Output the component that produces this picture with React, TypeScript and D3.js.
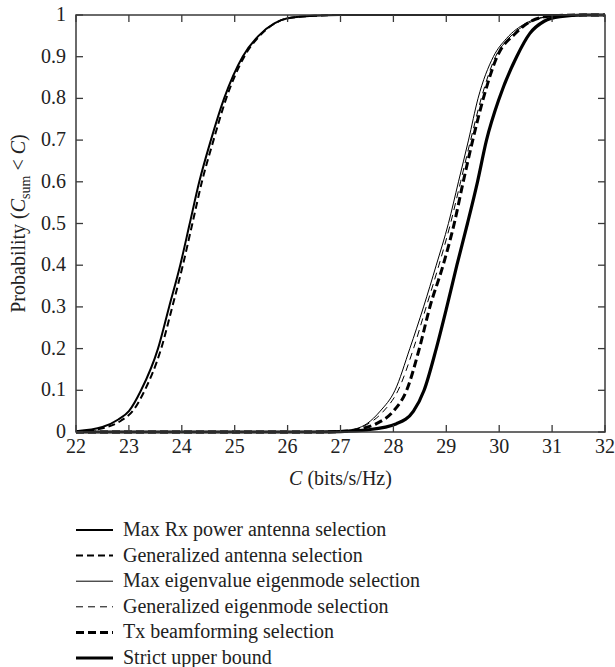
import React from "react";
import * as d3 from "d3";

const xTicks = [22, 23, 24, 25, 26, 27, 28, 29, 30, 31, 32];
const yTicks = [0, 0.1, 0.2, 0.3, 0.4, 0.5, 0.6, 0.7, 0.8, 0.9, 1];
const yTickLabels = ["0", "0.1", "0.2", "0.3", "0.4", "0.5", "0.6", "0.7", "0.8", "0.9", "1"];

// Max Rx power antenna selection
const maxRxC = [22.0, 22.5, 22.8, 23.0, 23.23, 23.55, 23.76, 23.97, 24.15, 24.33, 24.55, 24.8, 25.15, 25.45, 25.75, 26.0, 26.5, 27.0, 32.0];
const maxRxP = [0.002, 0.012, 0.03, 0.05, 0.1, 0.2, 0.3, 0.4, 0.5, 0.6, 0.7, 0.8, 0.9, 0.95, 0.98, 0.992, 0.998, 1.0, 1.0];
// Generalized antenna selection
const genAntC = [22.0, 22.5, 22.85, 23.07, 23.3, 23.61, 23.82, 24.02, 24.2, 24.38, 24.6, 24.84, 25.18, 25.47, 25.76, 26.0, 26.5, 27.0, 32.0];
const genAntP = [0.001, 0.009, 0.027, 0.05, 0.1, 0.2, 0.3, 0.4, 0.5, 0.6, 0.7, 0.8, 0.9, 0.95, 0.98, 0.992, 0.998, 1.0, 1.0];
// Max eigenvalue eigenmode selection
const maxEigC = [22.0, 26.5, 27.0, 27.3, 27.5, 27.75, 28.03, 28.31, 28.57, 28.81, 29.04, 29.23, 29.42, 29.6, 29.89, 30.14, 30.5, 30.9, 31.5, 32.0];
const maxEigP = [0.0, 0.0, 0.002, 0.008, 0.02, 0.05, 0.1, 0.2, 0.3, 0.4, 0.5, 0.6, 0.7, 0.8, 0.9, 0.944, 0.98, 0.996, 1.0, 1.0];
// Generalized eigenmode selection
const genEigC = [22.0, 26.5, 27.0, 27.3, 27.5, 27.8, 28.09, 28.38, 28.62, 28.86, 29.08, 29.27, 29.46, 29.66, 29.93, 30.18, 30.55, 30.92, 31.5, 32.0];
const genEigP = [0.0, 0.0, 0.002, 0.007, 0.018, 0.048, 0.1, 0.2, 0.3, 0.4, 0.5, 0.6, 0.7, 0.8, 0.9, 0.944, 0.98, 0.996, 1.0, 1.0];
// Tx beamforming selection
const txBfC = [22.0, 26.5, 27.0, 27.4, 27.68, 28.0, 28.25, 28.49, 28.69, 28.94, 29.15, 29.32, 29.5, 29.7, 29.96, 30.3, 30.6, 30.95, 31.5, 32.0];
const txBfP = [0.0, 0.0, 0.001, 0.008, 0.02, 0.05, 0.1, 0.2, 0.3, 0.4, 0.5, 0.6, 0.7, 0.8, 0.9, 0.955, 0.985, 0.997, 1.0, 1.0];
// Strict upper bound
const upperC = [22.0, 26.5, 27.0, 27.5, 28.06, 28.38, 28.58, 28.81, 29.01, 29.2, 29.4, 29.59, 29.76, 30.0, 30.33, 30.58, 30.85, 31.15, 31.6, 32.0];
const upperP = [0.0, 0.0, 0.001, 0.005, 0.02, 0.05, 0.1, 0.2, 0.3, 0.4, 0.5, 0.6, 0.7, 0.8, 0.9, 0.956, 0.985, 0.996, 1.0, 1.0];

const seriesNames = [
  "Max Rx power antenna selection",
  "Generalized antenna selection",
  "Max eigenvalue eigenmode selection",
  "Generalized eigenmode selection",
  "Tx beamforming selection",
  "Strict upper bound",
];

const styles = [
  { w: 2, dash: "" },
  { w: 2, dash: "7,4" },
  { w: 1, dash: "" },
  { w: 1, dash: "7,5" },
  { w: 3, dash: "8,4" },
  { w: 3.2, dash: "" },
];

export default function App() {
  const W = 615, H = 667;
  const left = 76, right = 605, top = 15, bottom = 432;
  const x = d3.scaleLinear().domain([22, 32]).range([left, right]);
  const y = d3.scaleLinear().domain([0, 1]).range([bottom, top]);
  const line = d3
    .line<[number, number]>()
    .x((d) => x(d[0]))
    .y((d) => y(d[1]))
    .curve(d3.curveMonotoneX);

  const data: [number[], number[]][] = [
    [maxRxC, maxRxP],
    [genAntC, genAntP],
    [maxEigC, maxEigP],
    [genEigC, genEigP],
    [txBfC, txBfP],
    [upperC, upperP],
  ];

  const font = "'Liberation Serif', 'Times New Roman', serif";
  const axisColor = "#3a3a3a";
  const tickLen = 7;
  const legendY0 = 530;
  const legendDy = 25.6;

  return (
    <svg width={W} height={H} style={{ position: "absolute", left: 0, top: 0, background: "#fff" }} fontFamily={font}>
      <rect x={0} y={0} width={W} height={H} fill="#fff" />
      <defs>
        <clipPath id="plotclip">
          <rect x={left} y={top - 3} width={right - left} height={bottom - top + 6} />
        </clipPath>
      </defs>
      <g clipPath="url(#plotclip)">
        {data.map(([cs, ps], i) => (
          <path
            key={i}
            d={line(cs.map((c, j) => [c, ps[j]] as [number, number])) || ""}
            fill="none"
            stroke="#000"
            strokeWidth={styles[i].w}
            strokeDasharray={styles[i].dash || undefined}
          />
        ))}
      </g>
      {/* frame */}
      <rect x={left} y={top} width={right - left} height={bottom - top} fill="none" stroke={axisColor} strokeWidth={1.5} />
      {/* x ticks */}
      {xTicks.map((t) => (
        <g key={"x" + t}>
          <line x1={x(t)} x2={x(t)} y1={bottom} y2={bottom - tickLen} stroke={axisColor} strokeWidth={1.3} />
          <line x1={x(t)} x2={x(t)} y1={top} y2={top + tickLen} stroke={axisColor} strokeWidth={1.3} />
          <text x={x(t)} y={bottom + 21} textAnchor="middle" fontSize={20} fill="#222">
            {t}
          </text>
        </g>
      ))}
      {yTicks.map((t, i) => (
        <g key={"y" + t}>
          <line x1={left} x2={left + tickLen} y1={y(t)} y2={y(t)} stroke={axisColor} strokeWidth={1.3} />
          <line x1={right} x2={right - tickLen} y1={y(t)} y2={y(t)} stroke={axisColor} strokeWidth={1.3} />
          <text x={left - 10} y={y(t) + 6} textAnchor="end" fontSize={20} fill="#222">
            {yTickLabels[i]}
          </text>
        </g>
      ))}
      {/* x axis title */}
      <text x={(left + right) / 2} y={485} textAnchor="middle" fontSize={20} fill="#222">
        <tspan fontStyle="italic">C</tspan> (bits/s/Hz)
      </text>
      {/* y axis title */}
      <text transform={`translate(25, ${(top + bottom) / 2}) rotate(-90)`} textAnchor="middle" fontSize={20} fill="#222">
        Probability (<tspan fontStyle="italic">C</tspan>
        <tspan fontSize={14} dy={5}>sum</tspan>
        <tspan dy={-5}> &lt; </tspan>
        <tspan fontStyle="italic">C</tspan>)
      </text>
      {/* legend */}
      {seriesNames.map((name, i) => {
        const ly = legendY0 + i * legendDy;
        return (
          <g key={"l" + i}>
            <line x1={76} x2={113} y1={ly} y2={ly} stroke="#000" strokeWidth={styles[i].w} strokeDasharray={styles[i].dash || undefined} />
            <text x={123} y={ly + 6} fontSize={20} fill="#222">
              {name}
            </text>
          </g>
        );
      })}
    </svg>
  );
}
